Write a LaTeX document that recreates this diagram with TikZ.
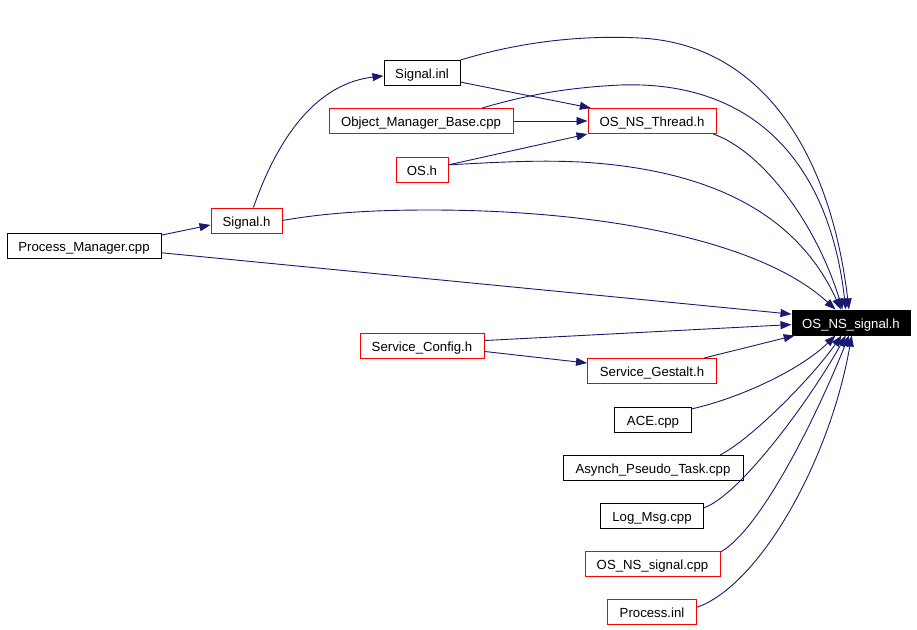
\documentclass[tikz,border=0pt]{standalone}
\usepackage{fontspec}
\setmainfont{Liberation Sans}
\usetikzlibrary{arrows.meta}
\definecolor{edgeblue}{RGB}{25,25,112}
\begin{document}
\begin{tikzpicture}[x=1pt,y=-1pt,
  box/.style={draw=black,line width=1pt,inner sep=0pt,minimum height=25pt,text height=11pt,text depth=0pt,font=\fontsize{13.2}{15}\selectfont,fill=white},
  redbox/.style={box,draw=red},
  mainbox/.style={box,fill=black,text=white},
  edge/.style={draw=edgeblue,line width=0.9pt,-{Triangle[length=11pt,width=8pt]}}]
\useasboundingbox (0,0) rectangle (917,629);
% nodes
\node[box,minimum width=76pt] (si) at (422,72.5) {Signal.inl};
\node[redbox,minimum width=184pt] (omb) at (421,121) {Object\_Manager\_Base.cpp};
\node[redbox,minimum width=128pt] (thr) at (652,121) {OS\_NS\_Thread.h};
\node[redbox,minimum width=52pt] (osh) at (422,170) {OS.h};
\node[redbox,minimum width=71pt] (sh) at (246.5,220.5) {Signal.h};
\node[box,minimum width=154pt] (pm) at (84,246) {Process\_Manager.cpp};
\node[mainbox,minimum width=118pt] (sig) at (851,322.5) {OS\_NS\_signal.h};
\node[redbox,minimum width=124pt] (sc) at (422,346) {Service\_Config.h};
\node[redbox,minimum width=129pt] (sg) at (652,371) {Service\_Gestalt.h};
\node[box,minimum width=77pt] (ace) at (653,420) {ACE.cpp};
\node[box,minimum width=180pt] (ap) at (653,468) {Asynch\_Pseudo\_Task.cpp};
\node[box,minimum width=103pt] (lm) at (652,516) {Log\_Msg.cpp};
\node[redbox,minimum width=135pt] (nsc) at (652.5,564) {OS\_NS\_signal.cpp};
\node[redbox,minimum width=89pt] (pi) at (652,612) {Process.inl};
% edges
\draw[edge] (pm.8) -- (sh.187);
\draw[edge] (pm.-5) -- (sig.172);
\draw[edge] (sh.62) .. controls (270,160) and (305,85) .. (si.185);
\draw[edge] (sh.east) .. controls (330,212) and (380,210) .. (430,210)
  .. controls (600,210) and (760,240) .. (sig.140);
\draw[edge] (si.-14) -- (thr.168);
\draw[edge] (si.18) .. controls (520,42) and (580,35) .. (640,38)
  .. controls (760,44) and (830,150) .. (sig.99);
\draw[edge] (omb.east) -- (thr.west);
\draw[edge] (omb.12) .. controls (520,97) and (560,88) .. (620,85)
  .. controls (760,80) and (830,170) .. (sig.112);
\draw[edge] (osh.11) -- (thr.south west);
\draw[edge] (osh.11) .. controls (500,162) and (540,160) .. (580,162)
  .. controls (720,170) and (800,220) .. (sig.128);
\draw[edge] (thr.-12) .. controls (760,150) and (815,220) .. (sig.123);
\draw[edge] (sc.5) -- (sig.182);
\draw[edge] (sc.-5) -- (sg.173);
\draw[edge] (sg.14) -- (sig.193);
\draw[edge] (ace.16) .. controls (740,398) and (800,370) .. (sig.220);
\draw[edge] (ap.11) .. controls (750,440) and (810,380) .. (sig.234);
\draw[edge] (lm.9) .. controls (740,495) and (810,400) .. (sig.248);
\draw[edge] (nsc.10) .. controls (760,530) and (815,420) .. (sig.261);
\draw[edge] (pi.6) .. controls (760,585) and (830,460) .. (sig.273);
\end{tikzpicture}
\end{document}
